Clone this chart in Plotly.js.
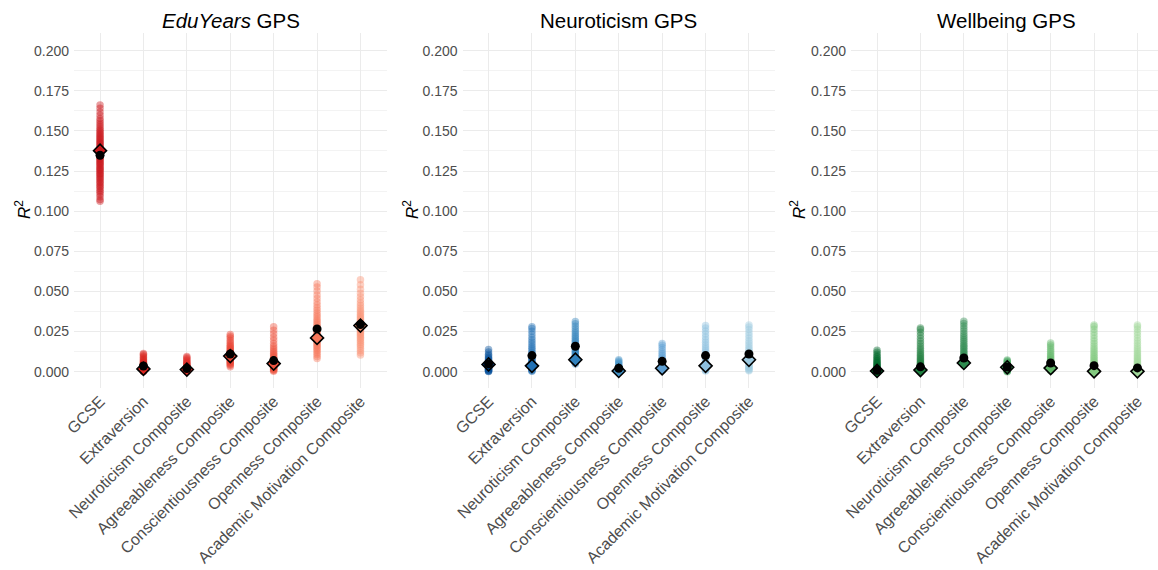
<!DOCTYPE html>
<html><head><meta charset="utf-8">
<script src="https://cdn.plot.ly/plotly-3.0.1.min.js"></script>
<style>html,body{margin:0;padding:0;background:#fff}#chart{width:1158px;height:570px}</style>
</head><body><div id="chart"></div>
<script>
const categories = ['GCSE','Extraversion','Neuroticism Composite','Agreeableness Composite','Conscientiousness Composite','Openness Composite','Academic Motivation Composite'];
const panelTitles = ['<i>EduYears</i> GPS','Neuroticism GPS','Wellbeing GPS'];
const yTicks = [0,0.025,0.05,0.075,0.1,0.125,0.15,0.175,0.2];

// EduYears GPS strips
const edu_gcse = [0.1061,0.1072,0.1089,0.1103,0.1118,0.1127,0.1139,0.1151,0.1158,0.1169,0.1178,0.1186,0.1197,0.1205,0.1213,0.1222,0.1230,0.1236,0.1245,0.1253,0.1259,0.1268,0.1274,0.1283,0.1290,0.1297,0.1303,0.1311,0.1318,0.1325,0.1331,0.1338,0.1344,0.1352,0.1358,0.1365,0.1371,0.1379,0.1385,0.1392,0.1399,0.1406,0.1413,0.1421,0.1428,0.1436,0.1443,0.1451,0.1459,0.1467,0.1476,0.1484,0.1493,0.1503,0.1512,0.1524,0.1537,0.1549,0.1563,0.1578,0.1597,0.1618,0.1641,0.1662];
const edu_extra = [0.0001,0.0003,0.0005,0.0007,0.0009,0.0011,0.0013,0.0016,0.0018,0.0021,0.0023,0.0026,0.0029,0.0032,0.0036,0.0039,0.0043,0.0047,0.0052,0.0057,0.0062,0.0068,0.0074,0.0081,0.0089,0.0097,0.0106,0.0113];
const edu_neuro = [0.0001,0.0002,0.0004,0.0006,0.0008,0.0010,0.0012,0.0014,0.0017,0.0019,0.0022,0.0025,0.0028,0.0031,0.0035,0.0039,0.0043,0.0048,0.0053,0.0059,0.0066,0.0073,0.0081,0.0088,0.0094];
const edu_agree = [0.0031,0.0039,0.0046,0.0052,0.0058,0.0063,0.0068,0.0073,0.0078,0.0083,0.0088,0.0092,0.0097,0.0102,0.0107,0.0112,0.0117,0.0123,0.0129,0.0135,0.0142,0.0149,0.0157,0.0165,0.0174,0.0184,0.0196,0.0209,0.0221,0.0231];
const edu_consc = [0.0003,0.0007,0.0011,0.0015,0.0019,0.0023,0.0027,0.0031,0.0035,0.0039,0.0044,0.0048,0.0053,0.0058,0.0063,0.0069,0.0075,0.0082,0.0089,0.0097,0.0105,0.0114,0.0124,0.0135,0.0147,0.0160,0.0176,0.0195,0.0214,0.0236,0.0258,0.0279];
const edu_open = [0.0082,0.0094,0.0106,0.0117,0.0128,0.0138,0.0147,0.0156,0.0165,0.0174,0.0182,0.0190,0.0198,0.0206,0.0214,0.0222,0.0230,0.0238,0.0246,0.0255,0.0264,0.0273,0.0283,0.0293,0.0304,0.0315,0.0327,0.0340,0.0353,0.0367,0.0382,0.0398,0.0415,0.0434,0.0455,0.0478,0.0503,0.0527,0.0548];
const edu_acad = [0.0103,0.0118,0.0132,0.0146,0.0159,0.0171,0.0183,0.0194,0.0205,0.0215,0.0225,0.0234,0.0243,0.0252,0.0261,0.0270,0.0279,0.0288,0.0297,0.0306,0.0316,0.0326,0.0336,0.0347,0.0358,0.0370,0.0383,0.0397,0.0412,0.0428,0.0446,0.0466,0.0489,0.0514,0.0541,0.0573];
const edu_circle  = [0.1348,0.0035,0.0019,0.0110,0.0069,0.0266,0.0293];
const edu_diamond = [0.1377,0.0017,0.0013,0.0097,0.0050,0.0210,0.0287];

// Neuroticism GPS strips
const neu_gcse = [0.0001,0.0003,0.0006,0.0009,0.0012,0.0015,0.0018,0.0021,0.0025,0.0029,0.0033,0.0037,0.0041,0.0046,0.0051,0.0056,0.0062,0.0068,0.0075,0.0082,0.0090,0.0099,0.0109,0.0122,0.0138];
const neu_extra = [0.0002,0.0006,0.0010,0.0014,0.0019,0.0024,0.0029,0.0034,0.0040,0.0046,0.0052,0.0058,0.0065,0.0072,0.0079,0.0087,0.0095,0.0104,0.0113,0.0123,0.0134,0.0145,0.0157,0.0170,0.0184,0.0199,0.0215,0.0233,0.0252,0.0268,0.0279];
const neu_neuro = [0.0048,0.0055,0.0062,0.0069,0.0076,0.0083,0.0090,0.0097,0.0104,0.0111,0.0119,0.0127,0.0135,0.0143,0.0151,0.0159,0.0168,0.0177,0.0186,0.0196,0.0206,0.0217,0.0228,0.0240,0.0253,0.0267,0.0282,0.0298,0.0312];
const neu_agree = [0.0000,0.0002,0.0004,0.0006,0.0008,0.0011,0.0014,0.0017,0.0020,0.0024,0.0028,0.0032,0.0037,0.0043,0.0050,0.0058,0.0066,0.0074];
const neu_consc = [0.0005,0.0009,0.0013,0.0017,0.0021,0.0026,0.0031,0.0036,0.0041,0.0047,0.0053,0.0059,0.0066,0.0073,0.0081,0.0090,0.0100,0.0111,0.0123,0.0136,0.0150,0.0164,0.0176];
const neu_open = [0.0004,0.0009,0.0014,0.0019,0.0024,0.0030,0.0036,0.0042,0.0049,0.0056,0.0063,0.0071,0.0079,0.0088,0.0097,0.0107,0.0118,0.0129,0.0141,0.0154,0.0168,0.0183,0.0199,0.0216,0.0234,0.0253,0.0272,0.0288];
const neu_acad = [0.0005,0.0010,0.0016,0.0022,0.0028,0.0034,0.0041,0.0048,0.0055,0.0063,0.0071,0.0079,0.0088,0.0097,0.0107,0.0117,0.0128,0.0139,0.0151,0.0164,0.0178,0.0193,0.0209,0.0226,0.0244,0.0262,0.0278,0.0290];
const neu_circle  = [0.0048,0.0100,0.0158,0.0021,0.0064,0.0100,0.0110];
const neu_diamond = [0.0045,0.0036,0.0074,0.0004,0.0021,0.0036,0.0074];

// Wellbeing GPS strips
const wb_gcse = [0.0000,0.0002,0.0004,0.0006,0.0008,0.0011,0.0014,0.0017,0.0020,0.0024,0.0028,0.0032,0.0037,0.0042,0.0047,0.0053,0.0059,0.0066,0.0073,0.0081,0.0089,0.0098,0.0108,0.0120,0.0133];
const wb_extra = [0.0001,0.0004,0.0007,0.0011,0.0015,0.0019,0.0024,0.0029,0.0034,0.0040,0.0046,0.0052,0.0059,0.0066,0.0074,0.0082,0.0091,0.0100,0.0110,0.0121,0.0133,0.0146,0.0160,0.0175,0.0191,0.0208,0.0226,0.0245,0.0262,0.0272];
const wb_neuro = [0.0040,0.0047,0.0054,0.0061,0.0068,0.0076,0.0084,0.0092,0.0100,0.0108,0.0117,0.0126,0.0135,0.0145,0.0155,0.0165,0.0176,0.0187,0.0199,0.0211,0.0224,0.0238,0.0253,0.0268,0.0284,0.0300,0.0314];
const wb_agree = [0.0000,0.0003,0.0006,0.0009,0.0012,0.0015,0.0019,0.0023,0.0027,0.0031,0.0036,0.0041,0.0047,0.0053,0.0060,0.0067,0.0072];
const wb_consc = [0.0005,0.0009,0.0013,0.0017,0.0022,0.0027,0.0032,0.0037,0.0043,0.0049,0.0055,0.0062,0.0069,0.0077,0.0085,0.0094,0.0104,0.0115,0.0127,0.0140,0.0153,0.0166,0.0178];
const wb_open = [0.0000,0.0004,0.0008,0.0013,0.0018,0.0023,0.0029,0.0035,0.0041,0.0048,0.0055,0.0063,0.0071,0.0080,0.0089,0.0099,0.0110,0.0121,0.0133,0.0146,0.0160,0.0175,0.0191,0.0208,0.0226,0.0245,0.0264,0.0281,0.0290];
const wb_acad = [0.0001,0.0005,0.0009,0.0014,0.0019,0.0024,0.0030,0.0036,0.0043,0.0050,0.0057,0.0065,0.0073,0.0082,0.0091,0.0101,0.0112,0.0123,0.0135,0.0148,0.0162,0.0177,0.0193,0.0210,0.0228,0.0246,0.0264,0.0280,0.0291];
const wb_circle  = [0.0008,0.0030,0.0085,0.0029,0.0054,0.0037,0.0023];
const wb_diamond = [0.0004,0.0010,0.0054,0.0027,0.0022,0.0002,0.0002];

const reds   = ['#CB181D','#DA2620','#E1302A','#EA4231','#EF543F','#F7775A','#FB9272'];
const blues  = ['#08519C','#2171B5','#3182BD','#4292C6','#5E9FD3','#8DC0E0','#9ECAE1'];
const greens = ['#00692A','#1E7F3F','#2E8B4F','#3FA357','#62B86A','#84CA80','#A1D99B'];

const panels = [
  {strips:[edu_gcse,edu_extra,edu_neuro,edu_agree,edu_consc,edu_open,edu_acad], circle:edu_circle, diamond:edu_diamond, colors:reds},
  {strips:[neu_gcse,neu_extra,neu_neuro,neu_agree,neu_consc,neu_open,neu_acad], circle:neu_circle, diamond:neu_diamond, colors:blues},
  {strips:[wb_gcse,wb_extra,wb_neuro,wb_agree,wb_consc,wb_open,wb_acad], circle:wb_circle, diamond:wb_diamond, colors:greens}
];

const W = 1158, H = 570;
const domains = [[74/W, 386.5/W],[462.5/W, 775/W],[851/W, 1]];
const xranges = [[0.4,7.6],[0.4,7.6],[0.4,0.4+307/43.4]];
const yTop = 1-33/H, yBot = 1-388/H;
const pos = categories.map((c,i)=>i+1);

const traces = [];
panels.forEach((p,pi)=>{
  const xa = pi===0 ? 'x' : 'x'+(pi+1);
  const ya = pi===0 ? 'y' : 'y'+(pi+1);
  p.strips.forEach((vals,ci)=>{
    traces.push({type:'scatter', mode:'markers', xaxis:xa, yaxis:ya,
      x: vals.map(()=>pos[ci]), y: vals,
      marker:{color:p.colors[ci], size:7.5, opacity:0.42, line:{width:0}},
      hoverinfo:'skip', showlegend:false});
  });
  traces.push({type:'scatter', mode:'markers', xaxis:xa, yaxis:ya, x:pos, y:p.diamond,
    marker:{symbol:'diamond', size:10, color:p.colors, line:{color:'#000', width:1.6}},
    hoverinfo:'skip', showlegend:false});
  traces.push({type:'scatter', mode:'markers', xaxis:xa, yaxis:ya, x:pos, y:p.circle,
    marker:{symbol:'circle', size:9, color:'#000', line:{width:0}},
    hoverinfo:'skip', showlegend:false});
});

const layout = {
  width:W, height:H, margin:{l:0,r:0,t:0,b:0},
  paper_bgcolor:'#fff', plot_bgcolor:'#fff',
  font:{family:'Liberation Sans, Arial, sans-serif', color:'#4D4D4D'},
  showlegend:false, annotations:[]
};
const axX = (pi)=>({domain:domains[pi], range:xranges[pi], anchor: pi===0?'y':'y'+(pi+1),
  tickvals:pos, ticktext:categories, tickangle:-45, ticks:'', showline:false, zeroline:false,
  showgrid:true, gridcolor:'#EBEBEB', gridwidth:1, tickfont:{size:16, color:'#4D4D4D'}, fixedrange:true});
const axY = (pi)=>({domain:[yBot,yTop], range:[-0.0102,0.211], anchor: pi===0?'x':'x'+(pi+1),
  tickvals:yTicks, tickformat:'.3f', ticks:'', showline:false, zeroline:false,
  showgrid:true, gridcolor:'#EBEBEB', gridwidth:1, ticklabelstandoff:4,
  minor:{tickvals:[0.0125,0.0375,0.0625,0.0875,0.1125,0.1375,0.1625,0.1875], showgrid:true, gridcolor:'#F3F3F3', gridwidth:1},
  tickfont:{size:14, color:'#4D4D4D'}, fixedrange:true});
layout.xaxis = axX(0); layout.xaxis2 = axX(1); layout.xaxis3 = axX(2);
layout.yaxis = axY(0); layout.yaxis2 = axY(1); layout.yaxis3 = axY(2);

const titleCenters = [231, 618, 1006];
const yTitleX = [23, 411, 798];
panelTitles.forEach((t,i)=>{
  layout.annotations.push({text:t, xref:'paper', yref:'paper', x:titleCenters[i]/W, y:1-20/H,
    xanchor:'center', yanchor:'middle', showarrow:false, font:{size:20.5, color:'#000'}});
  layout.annotations.push({text:'<i>R</i><sup>2</sup>', xref:'paper', yref:'paper', x:yTitleX[i]/W, y:1-210/H,
    xanchor:'center', yanchor:'middle', textangle:-90, showarrow:false, font:{size:17, color:'#000'}});
});

Plotly.newPlot('chart', traces, layout, {staticPlot:true, displayModeBar:false});
</script></body></html>
